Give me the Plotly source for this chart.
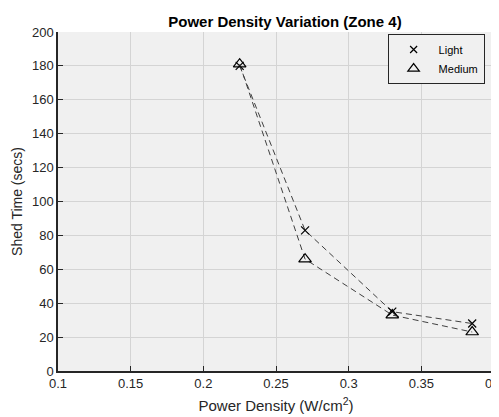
import plotly.graph_objects as go

power_density = [0.225, 0.27, 0.33, 0.385]
light_time = [180, 83, 35, 28]
medium_time = [181, 66, 33, 23]
x_ticks = [0.1, 0.15, 0.2, 0.25, 0.3, 0.35, 0.4]
x_tick_labels = ["0.1", "0.15", "0.2", "0.25", "0.3", "0.35", "0.4"]
y_ticks = [0, 20, 40, 60, 80, 100, 120, 140, 160, 180, 200]

line_color = "#404040"
fig = go.Figure()
fig.add_trace(go.Scatter(x=power_density, y=light_time, mode="lines+markers", name="Light",
                         line=dict(color=line_color, width=1, dash="6px,4px"),
                         marker=dict(symbol="x-thin-open", size=8, color="#000000", line=dict(width=1.2, color="#000000")),
                         showlegend=False, cliponaxis=False))
fig.add_trace(go.Scatter(x=power_density, y=medium_time, mode="lines+markers", name="Medium",
                         line=dict(color=line_color, width=1, dash="6px,4px"),
                         marker=dict(symbol="triangle-up-open", size=11, color="#000000", line=dict(width=1.2, color="#000000")),
                         showlegend=False, cliponaxis=False))
fig.add_trace(go.Scatter(x=[None], y=[None], mode="markers", name="Light",
                         marker=dict(symbol="x-thin-open", size=7, color="#000000", line=dict(width=1.2, color="#000000"))))
fig.add_trace(go.Scatter(x=[None], y=[None], mode="markers", name="Medium",
                         marker=dict(symbol="triangle-up-open", size=10, color="#000000", line=dict(width=1.2, color="#000000"))))

fig.update_layout(
    width=499, height=417,
    margin=dict(l=50, r=13, t=24, b=54, autoexpand=False),
    paper_bgcolor="white", plot_bgcolor="#f0f0f0",
    font=dict(family="Liberation Sans, Arial, sans-serif", size=13, color="#262626"),
    title=dict(text="<b>Power Density Variation (Zone 4)</b>", x=0.555, xanchor="center",
               y=0.968, yanchor="middle", font=dict(size=15, color="#000000")),
    legend=dict(x=0.756, y=0.994, xanchor="left", yanchor="top",
                bgcolor="#f0f0f0", bordercolor="#262626", borderwidth=1,
                font=dict(size=11, color="#000000"), itemwidth=40,
                tracegroupgap=0),
    showlegend=True,
)
fig.update_xaxes(range=[0.1, 0.4], tickvals=x_ticks, ticktext=x_tick_labels, automargin=False,
                 showgrid=True, gridcolor="#d4d4d4", gridwidth=1,
                 showline=True, linecolor="#262626", linewidth=1.5, mirror=False,
                 ticks="inside", ticklen=5, tickcolor="#262626", zeroline=False,
                 tickfont=dict(size=13),
                 title=dict(text="Power Density (W/cm<sup>2</sup>)", standoff=10, font=dict(size=15)))
fig.update_yaxes(range=[0, 200], tickvals=y_ticks, automargin=False,
                 showgrid=True, gridcolor="#d4d4d4", gridwidth=1,
                 showline=True, linecolor="#262626", linewidth=1.5, mirror=False,
                 ticks="inside", ticklen=5, tickcolor="#262626", zeroline=False,
                 tickfont=dict(size=13),
                 title=dict(text="Shed Time (secs)", standoff=6, font=dict(size=14)))

fig.write_html("out.html")
